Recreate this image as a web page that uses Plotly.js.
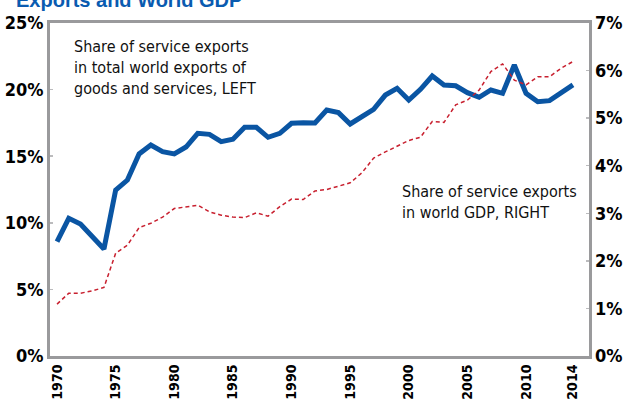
<!DOCTYPE html>
<html>
<head>
<meta charset="utf-8">
<script src="https://cdn.plot.ly/plotly-3.0.1.min.js"></script>
<style>html,body{margin:0;padding:0;background:#fff;}#chart{width:623px;height:400px;}</style>
</head>
<body>
<div id="chart"></div>
<script>
const years = [1970,1971,1972,1973,1974,1975,1976,1977,1978,1979,1980,1981,1982,1983,1984,1985,1986,1987,1988,1989,1990,1991,1992,1993,1994,1995,1996,1997,1998,1999,2000,2001,2002,2003,2004,2005,2006,2007,2008,2009,2010,2011,2012,2013,2014];
const shareOfExports = [8.58,10.34,9.91,9.01,8.03,12.46,13.21,15.17,15.84,15.34,15.17,15.69,16.72,16.64,16.09,16.27,17.17,17.17,16.42,16.72,17.47,17.52,17.49,18.47,18.27,17.42,17.97,18.52,19.59,20.10,19.22,20.02,21.02,20.35,20.29,19.77,19.42,19.97,19.72,21.85,19.72,19.09,19.17,19.72,20.35];
const shareOfGDP = [1.09,1.32,1.32,1.37,1.44,2.16,2.33,2.70,2.79,2.92,3.10,3.13,3.17,3.03,2.96,2.92,2.91,3.01,2.94,3.14,3.30,3.29,3.47,3.50,3.57,3.64,3.85,4.16,4.29,4.41,4.53,4.60,4.93,4.91,5.28,5.38,5.59,5.98,6.14,5.80,5.70,5.87,5.87,6.05,6.19];
const xTickVals = [1970,1975,1980,1985,1990,1995,2000,2005,2010,2014];
const leftTicks = [0,5,10,15,20,25];
const rightTicks = [0,1,2,3,4,5,6,7];
const titleText = "Exports and World GDP";
const noteLeft = "Share of service exports<br>in total world exports of<br>goods and services, LEFT";
const noteRight = "Share of service exports<br>in world GDP, RIGHT";

const narrow = "DejaVu Sans Condensed, sans-serif";
const tickFont = {family: narrow, size: 18, color: '#000', weight: 'bold'};

const traces = [
  {x: years, y: shareOfGDP, yaxis: 'y2', type: 'scatter', mode: 'lines',
   line: {color: '#c8202f', width: 1.5, dash: '4px,3px'}, hoverinfo: 'skip'},
  {x: years, y: shareOfExports, yaxis: 'y', type: 'scatter', mode: 'lines',
   line: {color: '#0a55a3', width: 5}, hoverinfo: 'skip'}
];

const layout = {
  width: 623, height: 400,
  margin: {l: 50, r: 34, t: 23, b: 44, pad: 0},
  paper_bgcolor: '#fff', plot_bgcolor: '#fff',
  showlegend: false,
  xaxis: {
    range: [1969.4, 2015.37], tickvals: xTickVals, ticktext: xTickVals.map(String),
    tickangle: -90, tickfont: {family: narrow, size: 14, color: '#000', weight: 'bold'},
    showgrid: false, zeroline: false, showline: true, linecolor: '#9a9a9c', linewidth: 3, mirror: true,
    ticks: '', fixedrange: true
  },
  xaxis2: {
    overlaying: 'x', range: [1969.4, 2015.37], dtick: 1, tick0: 1970, ticks: 'inside', ticklen: 3, tickwidth: 1.5,
    tickcolor: '#bbbbbd', showticklabels: false, showgrid: false, zeroline: false, anchor: 'y', side: 'bottom'
  },
  yaxis: {
    range: [0, 25], tickvals: leftTicks, ticktext: leftTicks.map(v => v + '%'),
    tickfont: tickFont, showgrid: false, zeroline: false,
    showline: true, linecolor: '#9a9a9c', linewidth: 3, mirror: true,
    ticks: 'inside', ticklen: 3, tickwidth: 1.5, tickcolor: '#bbbbbd', fixedrange: true
  },
  yaxis2: {
    range: [0, 7], tickvals: rightTicks, ticktext: rightTicks.map(v => v + '%'),
    overlaying: 'y', side: 'right', anchor: 'x', ticklabelstandoff: 5,
    tickfont: tickFont, showgrid: false, zeroline: false, showline: false,
    ticks: 'inside', ticklen: 3, tickwidth: 1.5, tickcolor: '#bbbbbd', fixedrange: true
  },
  annotations: [
    {text: '<b>' + titleText + '</b>', xref: 'paper', yref: 'paper', x: -0.067, y: 1.03,
     xanchor: 'left', yanchor: 'bottom', showarrow: false, align: 'left',
     font: {family: 'Liberation Sans, Arial, sans-serif', size: 20, color: '#0a5bb0'}},
    {text: noteLeft, xref: 'paper', yref: 'paper', x: 0.04, y: 0.965,
     xanchor: 'left', yanchor: 'top', showarrow: false, align: 'left',
     font: {family: narrow, size: 16, color: '#111'}},
    {text: noteRight, xref: 'paper', yref: 'paper', x: 0.65, y: 0.53,
     xanchor: 'left', yanchor: 'top', showarrow: false, align: 'left',
     font: {family: narrow, size: 16, color: '#111'}}
  ]
};

Plotly.newPlot('chart', traces, layout, {displayModeBar: false, staticPlot: true});
</script>
</body>
</html>
